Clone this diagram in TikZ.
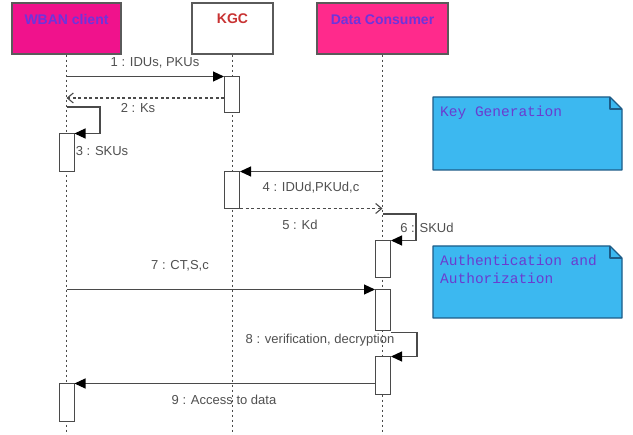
\documentclass[tikz,border=0pt]{standalone}
\usepackage{fontspec}
\setmainfont{Liberation Sans}
\newfontfamily\notefont{Liberation Mono}
\usetikzlibrary{arrows.meta,calc}

\definecolor{wbanfill}{HTML}{F0128C}
\definecolor{dcfill}{HTML}{FF2A8C}
\definecolor{headtext}{HTML}{6E34DC}
\definecolor{kgcred}{HTML}{C83232}
\definecolor{headedge}{HTML}{5A5A5A}
\definecolor{notefill}{HTML}{3CB8F0}
\definecolor{noteedge}{HTML}{1C5C88}
\definecolor{notetext}{HTML}{6A3CD0}
\definecolor{linegray}{HTML}{4A4A4A}
\definecolor{labelgray}{HTML}{505050}

\tikzset{
  headbox/.style={draw=headedge, line width=1.2pt, inner sep=0pt},
  headtitle/.style={font=\fontsize{14}{16}\selectfont\bfseries, inner sep=0pt},
  lifeline/.style={draw=linegray, line width=1pt, dash pattern=on 2.5pt off 2.5pt},
  actbox/.style={draw=linegray, fill=white, line width=1pt, inner sep=0pt, minimum width=15pt},
  msg/.style={draw=linegray, line width=1.1pt, -{Triangle[length=11pt,width=10pt,color=black]}},
  reply/.style={draw=linegray, line width=1.1pt, dash pattern=on 3pt off 2.5pt, -{Straight Barb[length=6pt,width=10pt]}},
  msglabel/.style={font=\fontsize{13}{15}\selectfont, text=labelgray, inner sep=0pt},
  notebox/.style={fill=notefill, draw=noteedge, line width=1.1pt, line join=round},
  notelabel/.style={font=\notefont\fontsize{14.5}{18}\selectfont, text=notetext, inner sep=0pt, align=left, anchor=north west}
}

\begin{document}
\begin{tikzpicture}[x=1pt, y=-1pt]
\useasboundingbox[fill=white] (0,0) rectangle (633,435);
\coordinate (bottom) at (0,435);

% participant heads
\node[headbox, fill=wbanfill, minimum width=109pt, minimum height=51pt] (wban) at (66.5,28.5) {};
\node[headbox, fill=white, minimum width=81pt, minimum height=51pt] (kgc) at (232.5,28.5) {};
\node[headbox, fill=dcfill, minimum width=131pt, minimum height=51pt] (dc) at (382.5,28.5) {};
\node[headtitle, text=headtext] (wbant) at ($(wban.north)+(0,17)$) {WBAN client};
\node[headtitle, text=kgcred] (kgct) at ($(kgc.north)+(0,16)$) {KGC};
\node[headtitle, text=headtext] (dct) at ($(dc.north)+(0,17)$) {Data Consumer};

% lifelines
\draw[lifeline] (wban.south) -- (wban.south |- bottom);
\draw[lifeline] (kgc.south) -- (kgc.south |- bottom);
\draw[lifeline] (dc.south) -- (dc.south |- bottom);

% activation bars
\node[actbox, minimum height=36pt] (a1) at (232,95) {};
\node[actbox, minimum height=38pt] (a2) at (66.5,153) {};
\node[actbox, minimum height=37pt] (a3) at (232,190.5) {};
\node[actbox, minimum height=37pt] (a4) at (383,259.5) {};
\node[actbox, minimum height=41pt] (a5) at (383,310.5) {};
\node[actbox, minimum height=38pt] (a6) at (383,376) {};
\node[actbox, minimum height=38pt] (a7) at (66.5,403) {};

% message anchors on the lifelines
\coordinate (r2) at (224,98);
\coordinate (s3) at (67,107);
\coordinate (s6) at (383,214);

% messages
\draw[msg] (wban.south |- a1.north) -- (a1.north west);
\draw[reply] (r2) -- (wban.south |- r2);
\draw[msg] (s3) -- ++(33,0) |- (a2.north east);
\draw[msg] (dc.south |- a3.north) -- (a3.north east);
\draw[reply] ($(a3.south east)+(0,-1)$) -- ($(dc.south |- a3.south)+(0,-1)$);
\draw[msg] (s6) -- ++(33,0) |- (a4.north east);
\draw[msg] (wban.south |- a5.north) -- (a5.north west);
\draw[msg] ($(a5.south east)+(0,1)$) -- ++(26,0) |- (a6.north east);
\draw[msg] (a6.west |- a7.north) -- (a7.north east);

% message labels
\node[msglabel] (l1) at (155,63) {1 : IDUs, PKUs};
\node[msglabel] (l2) at (138,108) {2 : Ks};
\node[msglabel] (l3) at (102,151) {3 : SKUs};
\node[msglabel] (l4) at (311,188) {4 : IDUd,PKUd,c};
\node[msglabel] (l5) at (300,225) {5 : Kd};
\node[msglabel] (l6) at (427,228) {6 : SKUd};
\node[msglabel] (l7) at (180,266) {7 : CT,S,c};
\node[msglabel] (l8) at (320,340) {8 : verification, decryption};
\node[msglabel] (l9) at (224,400) {9 : Access to data};

% notes with folded corner
\draw[notebox] (433,97) -- (610,97) -- (622,109) -- (622,170) -- (433,170) -- cycle;
\draw[draw=noteedge, line width=1.1pt, line join=round] (610,97) -- (610,109) -- (622,109);
\node[notelabel] (kgnote) at (440,106) {Key Generation};

\draw[notebox] (433,246) -- (610,246) -- (622,258) -- (622,318) -- (433,318) -- cycle;
\draw[draw=noteedge, line width=1.1pt, line join=round] (610,246) -- (610,258) -- (622,258);
\node[notelabel] (aanote) at (440,255) {Authentication and\\Authorization};
\end{tikzpicture}
\end{document}
